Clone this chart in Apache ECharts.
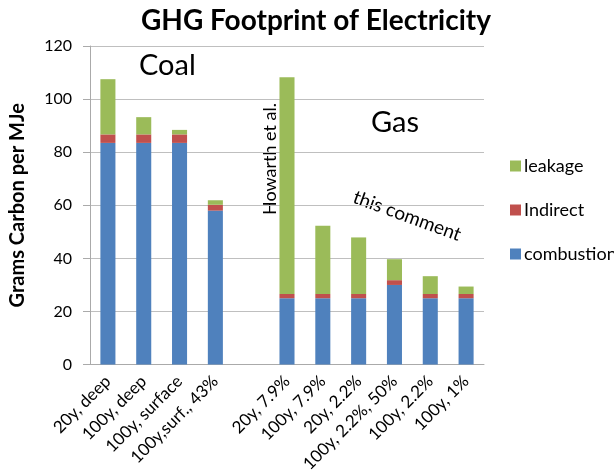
<!DOCTYPE html>
<html><head><meta charset="utf-8">
<script src="https://cdn.jsdelivr.net/npm/echarts@6/dist/echarts.min.js"></script>
<style>html,body{margin:0;padding:0;background:#fff}#c{width:614px;height:475px}</style>
</head><body><div id="c"></div>
<script>
const categories = ['20y, deep','100y, deep','100y, surface','100y,surf., 43%','','20y, 7.9%','100y, 7.9%','20y, 2.2%','100y, 2.2%, 50%','100y, 2.2%','100y, 1%'];
const combustion = [83.5,83.5,83.5,58,'-',25,25,25,30,25,25];
const indirect = [3.2,3.2,3.2,2.2,'-',1.6,1.6,1.6,1.8,1.6,1.6];
const leakage = [20.8,6.5,1.7,1.7,'-',81.6,25.7,21.3,7.9,6.7,2.8];
const yTicks = [0,20,40,60,80,100,120];

const F = 'Lato, "Open Sans", sans-serif';
const chart = echarts.init(document.getElementById('c'));
const bar = (name, data, color) => ({name, type:'bar', stack:'t', data, barWidth:'42%', itemStyle:{color}, animation:false});
chart.setOption({
  animation:false,
  title:{text:'GHG Footprint of Electricity', left:311, top:2, textAlign:'center',
    textStyle:{fontFamily:F, fontWeight:'bold', fontSize:28, color:'#000'}},
  legend:{orient:'vertical', left:505, top:152, itemGap:26, itemWidth:11, itemHeight:11, icon:'rect',
    data:['leakage','Indirect','combustion'],
    textStyle:{fontFamily:F, fontSize:18, color:'#000', padding:[0,0,0,-2]}},
  grid:{left:90, right:130, top:46, bottom:110},
  xAxis:{type:'category', data:categories,
    axisLine:{lineStyle:{color:'#aaa'}}, axisTick:{lineStyle:{color:'#aaa'}, length:6},
    axisLabel:{rotate:45, interval:0, fontFamily:F, fontSize:17, color:'#000', margin:14}},
  yAxis:{type:'value', min:0, max:120, interval:20, name:'Grams Carbon per MJe', nameLocation:'middle', nameGap:62,
    nameTextStyle:{fontFamily:F, fontWeight:'bold', fontSize:20, color:'#000'},
    axisLine:{show:true, lineStyle:{color:'#aaa'}}, axisTick:{show:true, length:7, lineStyle:{color:'#aaa'}},
    splitLine:{lineStyle:{color:'#bfbfbf'}},
    axisLabel:{fontFamily:F, fontSize:16, color:'#000', margin:18, formatter:v=>yTicks.includes(v)?String(v):''}},
  series:[bar('combustion', combustion, '#4F81BD'), bar('Indirect', indirect, '#C0504D'), bar('leakage', leakage, '#9BBB59')],
  graphic:[
    {type:'text', x:139, y:66, style:{text:'Coal', font:'29px '+F, fill:'#000', align:'left', verticalAlign:'middle'}},
    {type:'text', x:395, y:123, style:{text:'Gas', font:'29px '+F, fill:'#000', align:'center', verticalAlign:'middle'}},
    {type:'text', x:270, y:159, rotation:Math.PI/2, style:{text:'Howarth et al.', font:'18px '+F, fill:'#000', align:'center', verticalAlign:'middle'}},
    {type:'text', x:407, y:216, rotation:-0.35, style:{text:'this comment', font:'19px '+F, fill:'#000', align:'center', verticalAlign:'middle'}}
  ]
});
</script></body></html>
